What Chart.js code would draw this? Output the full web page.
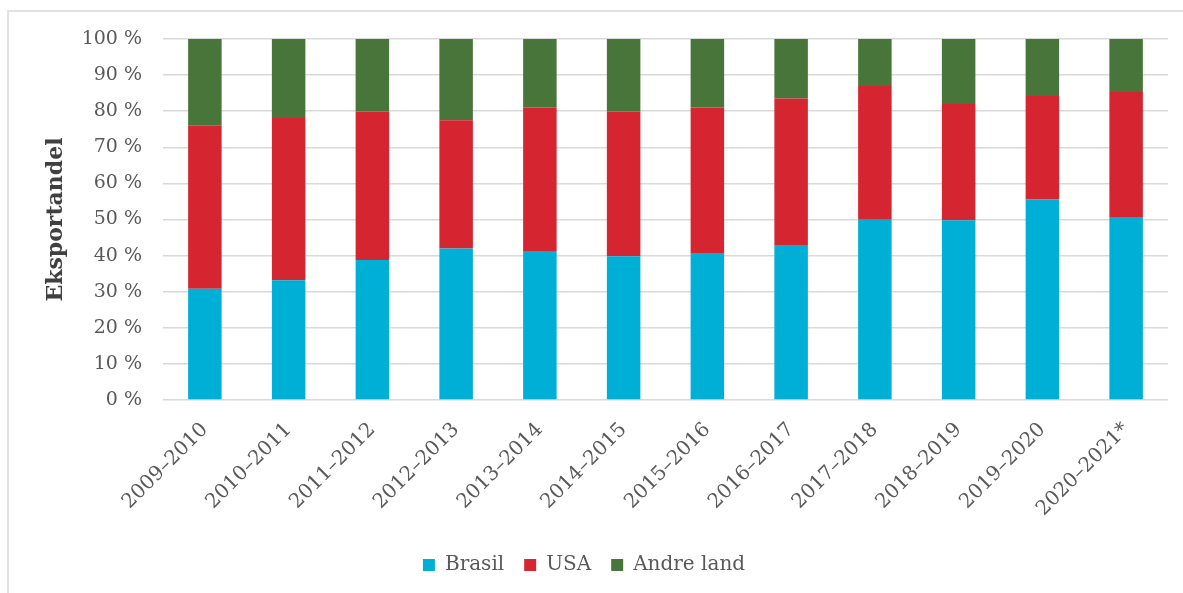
<!DOCTYPE html>
<html>
<head>
<meta charset="utf-8">
<script src="https://cdn.jsdelivr.net/npm/chart.js@4.4.1/dist/chart.umd.min.js"></script>
<style>
    body { margin: 0; background: #ffffff; }
    #wrap { position: relative; width: 1183px; height: 593px; overflow: hidden; }
    #frame {
        position: absolute; left: 7px; top: 10px; width: 1300px; height: 700px;
        border: 2px solid #e2e2e2;
    }
    #box { position: absolute; left: 0; top: 0; width: 1183px; height: 593px; }
</style>
</head>
<body>
<div id="wrap">
    <div id="frame"></div>
    <div id="box"><canvas id="exportChart"></canvas></div>
</div>
<script>
const seasons = ["2009–2010", "2010–2011", "2011–2012", "2012–2013", "2013–2014", "2014–2015",
    "2015–2016", "2016–2017", "2017–2018", "2018–2019", "2019–2020", "2020–2021*"];

// Eksportandel i prosent per sesong
const brasil = [30.8, 33.2, 38.8, 42.0, 41.3, 39.8, 40.5, 42.7, 49.9, 49.8, 55.6, 50.5];
const usa = [45.2, 44.9, 41.1, 35.5, 39.7, 40.1, 40.5, 40.8, 37.1, 32.2, 28.6, 34.8];
const andreLand = [24.0, 21.9, 20.1, 22.5, 19.0, 20.1, 19.0, 16.5, 13.0, 18.0, 15.8, 14.7];

const yTicks = [0, 10, 20, 30, 40, 50, 60, 70, 80, 90, 100];

const serif = "'DejaVu Serif', 'Liberation Serif', serif";

const chartData = {
    labels: seasons,
    datasets: [
        { label: "Brasil", data: brasil, backgroundColor: "#00afd5" },
        { label: "USA", data: usa, backgroundColor: "#d42530" },
        { label: "Andre land", data: andreLand, backgroundColor: "#48763a" },
    ],
};

const chartOptions = {
    responsive: true,
    maintainAspectRatio: false,
    animation: false,
    layout: {
        padding: { top: 39, right: 15, left: 0, bottom: 8 },
    },
    datasets: {
        bar: { categoryPercentage: 1.0, barPercentage: 0.4 },
    },
    scales: {
        x: {
            stacked: true,
            grid: { display: false },
            border: { display: false },
            ticks: {
                minRotation: 45,
                maxRotation: 45,
                padding: 10,
                color: "#595959",
                font: { family: serif, size: 20 },
            },
            afterFit: (scale) => { scale.height = 135; },
        },
        y: {
            stacked: true,
            min: 0,
            max: 100,
            afterBuildTicks: (scale) => {
                scale.ticks = yTicks.map((v) => ({ value: v }));
            },
            grid: { color: "#d9d9d9", lineWidth: 1.5, drawTicks: false },
            border: { display: false },
            ticks: {
                padding: 21,
                color: "#595959",
                font: { family: serif, size: 19 },
                callback: (value) => value + " %",
            },
            title: {
                display: true,
                text: "Eksportandel",
                color: "#404040",
                padding: { top: 43, bottom: 0 },
                font: { family: serif, size: 22, weight: "bold" },
            },
            afterFit: (scale) => { scale.width = 163; },
        },
    },
    plugins: {
        legend: {
            position: "bottom",
            labels: {
                boxWidth: 12,
                boxHeight: 12,
                padding: 20,
                color: "#595959",
                font: { family: serif, size: 20 },
            },
        },
        tooltip: { enabled: false },
    },
};

new Chart(document.getElementById("exportChart"), {
    type: "bar",
    data: chartData,
    options: chartOptions,
});
</script>
</body>
</html>
